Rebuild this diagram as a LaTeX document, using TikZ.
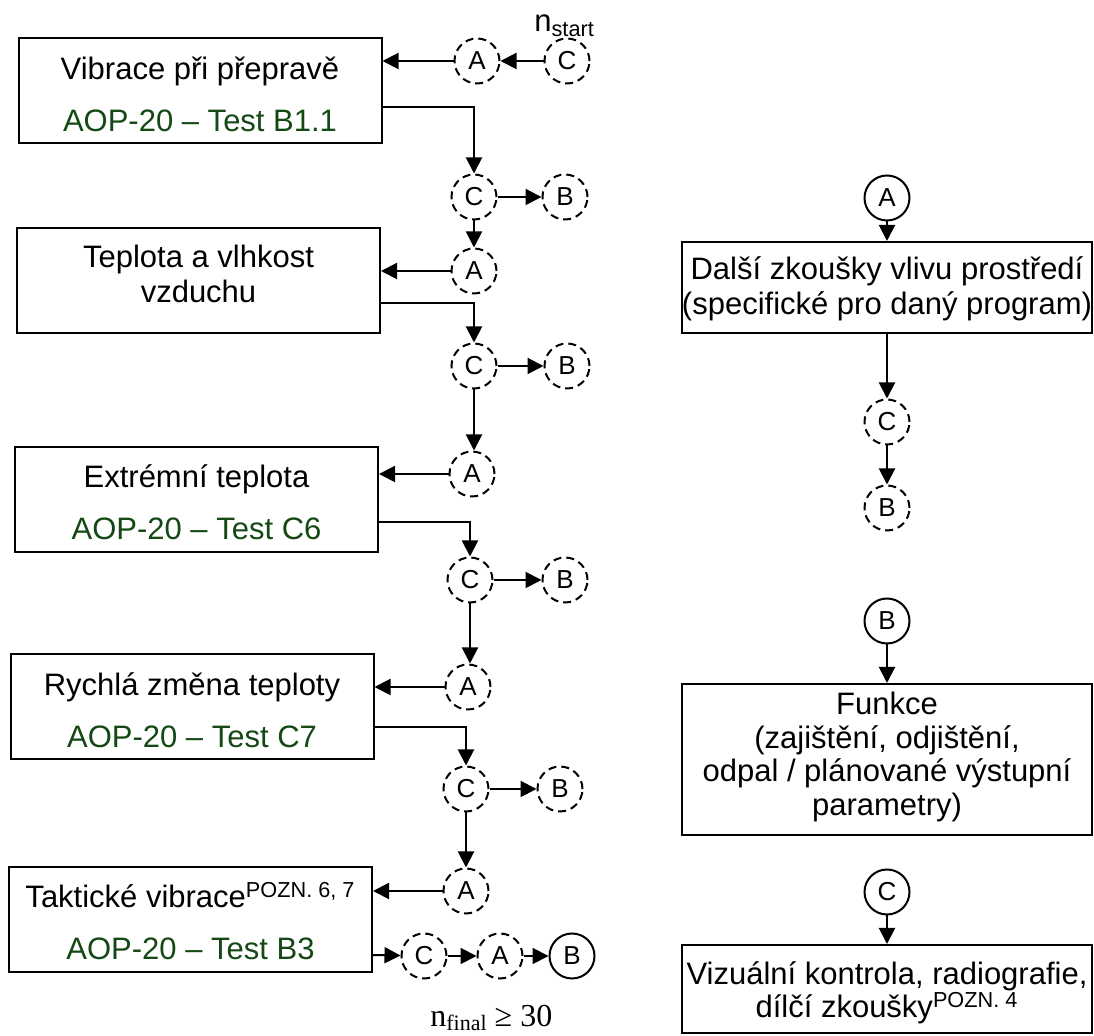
\documentclass[tikz,border=0pt]{standalone}
\usepackage{fontspec}
\setmainfont{Liberation Sans}
\newfontfamily\timesfont{Liberation Serif}
\usetikzlibrary{arrows.meta}
\definecolor{aopgreen}{RGB}{20,72,20}
\tikzstyle{testbox} = [rectangle, draw=black, line width=1pt, minimum width=181.5pt, minimum height=52.5pt, inner sep=0pt]
\tikzstyle{envbox} = [rectangle, draw=black, line width=1pt, minimum width=205pt, inner sep=0pt]
\tikzstyle{boxtext} = [anchor=base, inner sep=0pt, font=\fontsize{15.5}{18}\selectfont]
\tikzstyle{aoptext} = [boxtext, text=aopgreen]
\tikzstyle{dashcirc} = [circle, draw=black, line width=1pt, dash pattern=on 4pt off 2.5pt, minimum size=22.5pt, inner sep=0pt, font=\fontsize{13}{15}\selectfont]
\tikzstyle{solidcirc} = [dashcirc, solid]
\tikzstyle{arrow} = [line width=1pt, -{Triangle[length=8pt, width=8pt]}]

\begin{document}
\begin{tikzpicture}[x=0.5pt, y=-0.5pt]
      \useasboundingbox (0,0) rectangle (1094,1036);

      % left column: test sequence
      \node (box1) [testbox] at (200,90.5) {};
      \node (box1a) [boxtext] at (200,80) {Vibrace při přepravě};
      \node (box1b) [aoptext] at (200,132) {AOP-20 – Test B1.1};
      \node (box2) [testbox] at (198.5,280.5) {};
      \node (box2a) [boxtext] at (198.5,268) {Teplota a vlhkost};
      \node (box2b) [boxtext] at (198.5,303) {vzduchu};
      \node (box3) [testbox] at (196.5,499.5) {};
      \node (box3a) [boxtext] at (196.5,488) {Extrémní teplota};
      \node (box3b) [aoptext] at (196.5,540) {AOP-20 – Test C6};
      \node (box4) [testbox] at (192,707) {};
      \node (box4a) [boxtext] at (192,696) {Rychlá změna teploty};
      \node (box4b) [aoptext] at (192,748) {AOP-20 – Test C7};
      \node (box5) [testbox] at (190.5,919.5) {};
      \node (box5a) [boxtext] at (190.5,908) {Taktické vibrace\textsuperscript{POZN. 6, 7}};
      \node (box5b) [aoptext] at (190.5,960) {AOP-20 – Test B3};

      % connector circles
      \node (cs) [dashcirc] at (567,61) {C};
      \node (a1) [dashcirc] at (477,61) {A};
      \node (c2) [dashcirc] at (474,197) {C};
      \node (b2) [dashcirc] at (565,197) {B};
      \node (a3) [dashcirc] at (474,271) {A};
      \node (c3) [dashcirc] at (474,366) {C};
      \node (b3) [dashcirc] at (567,366) {B};
      \node (a4) [dashcirc] at (472,474) {A};
      \node (c4) [dashcirc] at (470,580) {C};
      \node (b4) [dashcirc] at (565,580) {B};
      \node (a5) [dashcirc] at (468,687) {A};
      \node (c5) [dashcirc] at (466,789) {C};
      \node (b5) [dashcirc] at (560,789) {B};
      \node (a6) [dashcirc] at (466,891) {A};
      \node (c6) [dashcirc] at (424,956) {C};
      \node (a7) [dashcirc] at (500,956) {A};
      \node (b7) [solidcirc] at (572,956) {B};

      \node (nstart) [boxtext, anchor=base west] at (534,32) {n\textsubscript{start}};
      \node (nfinal) [anchor=base west, inner sep=0pt, font=\timesfont\fontsize{16}{18}\selectfont] at (430,1027) {n{\fontsize{11}{12}\selectfont\raisebox{-2pt}{final}} ≥ 30};

      \draw [arrow] (cs) -- (a1);
      \draw [arrow] (a1) -- (a1 -| box1.east);
      \draw [arrow] (box1.north east) ++(0,70) -| (c2);
      \draw [arrow] (c2) -- (b2);
      \draw [arrow] (c2) -- (a3);
      \draw [arrow] (a3) -- (a3 -| box2.east);
      \draw [arrow] (box2.north east) ++(0,76) -| (c3);
      \draw [arrow] (c3) -- (b3);
      \draw [arrow] (c3.south) -- (c3.south |- a4.north);
      \draw [arrow] (a4) -- (a4 -| box3.east);
      \draw [arrow] (box3.north east) ++(0,76) -| (c4);
      \draw [arrow] (c4) -- (b4);
      \draw [arrow] (c4.south) -- (c4.south |- a5.north);
      \draw [arrow] (a5) -- (a5 -| box4.east);
      \draw [arrow] (box4.north east) ++(0,74) -| (c5);
      \draw [arrow] (c5) -- (b5);
      \draw [arrow] (c5) -- (a6);
      \draw [arrow] (a6) -- (a6 -| box5.east);
      \draw [arrow] (box5.north east) ++(0,89) -- (c6);
      \draw [arrow] (c6) -- (a7);
      \draw [arrow] (a7) -- (b7);

      % right column: what the connectors stand for
      \node (ra) [solidcirc] at (887,198) {A};
      \node (dalsi) [envbox, minimum height=45.5pt] at (887,287.5) {};
      \node (dalsia) [boxtext] at (887,280) {Další zkoušky vlivu prostředí};
      \node (dalsib) [boxtext] at (887,315) {(specifické pro daný program)};
      \node (rc) [dashcirc] at (887,422) {C};
      \node (rb) [dashcirc] at (887,508) {B};
      \node (rb2) [solidcirc] at (887,621) {B};
      \node (funkce) [envbox, minimum height=75.5pt] at (887,759.5) {};
      \node (funkcea) [boxtext] at (887,715) {Funkce};
      \node (funkceb) [boxtext] at (887,748.5) {(zajištění, odjištění,};
      \node (funkcec) [boxtext] at (887,782) {odpal / plánované výstupní};
      \node (funkced) [boxtext] at (887,815.5) {parametry)};
      \node (rc2) [solidcirc] at (887,892) {C};
      \node (vizual) [envbox, minimum height=44pt] at (887,989) {};
      \node (viziala) [boxtext] at (887,985) {Vizuální kontrola, radiografie,};
      \node (vizialb) [boxtext] at (887,1018) {dílčí zkoušky\textsuperscript{POZN. 4}};

      \draw [arrow] (ra) -- (dalsi);
      \draw [arrow] (dalsi) -- (rc);
      \draw [arrow] (rc) -- (rb);
      \draw [arrow] (rb2) -- (funkce);
      \draw [arrow] (rc2) -- (vizual);
\end{tikzpicture}
\end{document}
